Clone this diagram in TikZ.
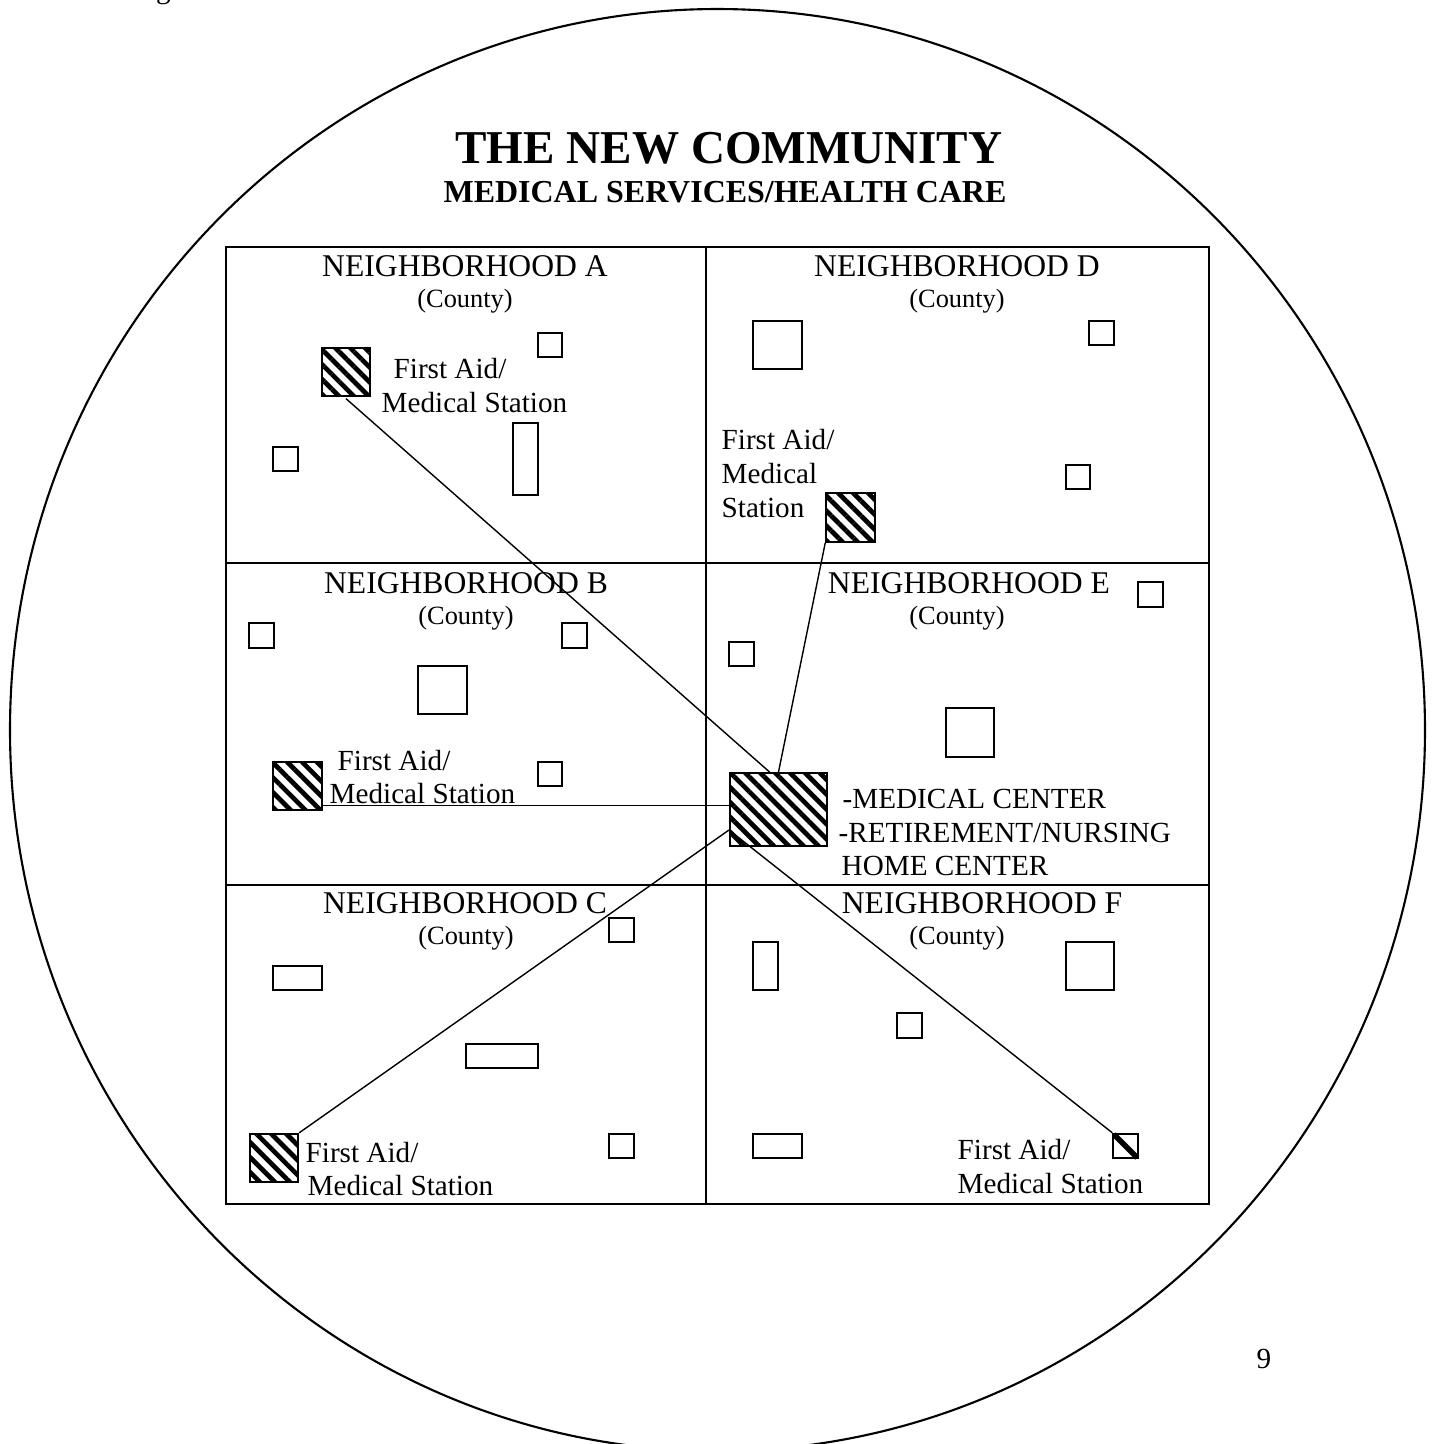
\documentclass[tikz,border=0pt]{standalone}
\usepackage{fontspec}
\setmainfont{Liberation Serif}
\usetikzlibrary{calc}
\usetikzlibrary{patterns.meta}

\tikzset{
	bldg/.style={draw, line width=0.55pt, inner sep=0pt, minimum width=2.45mm, minimum height=2.45mm},
	bigbldg/.style={bldg, minimum width=4.85mm, minimum height=4.85mm},
	station/.style={bigbldg, pattern={Lines[angle=-45,distance=3pt,line width=1.35pt]}},
	grid/.style={line width=0.6pt},
	link/.style={line width=0.4pt},
	nbhd/.style={font=\fontsize{9}{11}\selectfont, anchor=base, inner sep=0pt},
	cnty/.style={font=\fontsize{7.5}{9}\selectfont, anchor=base, inner sep=0pt},
	lbl/.style={font=\fontsize{8.3}{10}\selectfont, anchor=base west, inner sep=0pt}
}

\begin{document}
\begin{tikzpicture}[x=0.1mm,y=-0.1mm]
	\useasboundingbox (0,0) rectangle (1435,1444);

	\node[lbl] (fig) at (131,-2) {Figure 3.};
	\draw[grid] (717.5,730) ellipse [x radius=70.75mm, y radius=72.1mm];

	\node[font=\bfseries\fontsize{13.4}{16}\selectfont, anchor=base, inner sep=0pt] (title) at (729,163) {THE NEW COMMUNITY};
	\node[font=\bfseries\fontsize{9.1}{11}\selectfont, anchor=base, inner sep=0pt] (subtitle) at (725,202) {MEDICAL SERVICES/HEALTH CARE};

	\draw[grid] (226,247) rectangle (1209,1204);
	\draw[grid] (706,247) -- (706,1204);
	\draw[grid] (226,563) -- (1209,563);
	\draw[grid] (226,885) -- (1209,885);

	% neighborhood titles
	\node[nbhd] (na) at (465,276) {NEIGHBORHOOD A};
	\node[cnty] (ca) at (465,307) {(County)};
	\node[nbhd] (nd) at (957,276) {NEIGHBORHOOD D};
	\node[cnty] (cd) at (957,307) {(County)};
	\node[nbhd] (nb) at (466,593) {NEIGHBORHOOD B};
	\node[cnty] (cb) at (466,624) {(County)};
	\node[nbhd] (ne) at (969,593) {NEIGHBORHOOD E};
	\node[cnty] (ce) at (957,624) {(County)};
	\node[nbhd] (nc) at (465,913) {NEIGHBORHOOD C};
	\node[cnty] (cc) at (466,944) {(County)};
	\node[nbhd] (nf) at (982,913) {NEIGHBORHOOD F};
	\node[cnty] (cf) at (957,944) {(County)};

	% buildings
	\node[bldg] (a1) at (550,345) {};
	\node[bldg] (a2) at (285.5,459) {};
	\node[bldg, minimum height=7.2mm] (a3) at (525.5,459) {};
	\node[bigbldg] (d1) at (777.5,345) {};
	\node[bldg] (d2) at (1101.5,333) {};
	\node[bldg] (d3) at (1078,477) {};
	\node[bldg] (b1) at (261.5,635.5) {};
	\node[bldg] (b2) at (574.5,635.5) {};
	\node[bigbldg] (b3) at (442.5,690) {};
	\node[bldg] (b4) at (550,774) {};
	\node[bldg] (e1) at (1150.5,594.5) {};
	\node[bldg] (e2) at (741.5,654) {};
	\node[bigbldg] (e3) at (970,732.5) {};
	\node[bldg, minimum width=4.9mm] (c1) at (297.5,978) {};
	\node[bldg, minimum width=7.2mm] (c2) at (502,1056) {};
	\node[bldg] (c3) at (621.5,930) {};
	\node[bldg] (c4) at (621.5,1146) {};
	\node[bldg, minimum height=4.85mm] (f1) at (765.5,966) {};
	\node[bigbldg] (f2) at (1090,966) {};
	\node[bldg] (f3) at (909.5,1025.5) {};
	\node[bldg, minimum width=4.9mm] (f4) at (777.5,1146) {};

	% first aid stations and the center
	\node[station] (ast) at (346,372) {};
	\node[station] (dst) at (850.5,517.5) {};
	\node[station] (bst) at (297.5,786) {};
	\node[station] (cst) at (274,1158) {};
	\node[bldg] (fst) at (1125.5,1146) {};
	\draw[line width=1.6pt, shorten <=0.6pt, shorten >=0.6pt] (fst.north west) -- (fst.south east);
	\node[station, minimum width=9.7mm, minimum height=7.3mm] (mc) at (778.5,809.5) {};

	\node[lbl] (afa1) at (393,378) {First Aid/};
	\node[lbl] (afa2) at (381,412) {Medical Station};
	\node[lbl] (dfa1) at (721,449) {First Aid/};
	\node[lbl] (dfa2) at (721,483) {Medical};
	\node[lbl] (dfa3) at (721,517) {Station};
	\node[lbl] (bfa1) at (337,770) {First Aid/};
	\node[lbl] (bfa2) at (329,803) {Medical Station};
	\node[lbl] (cfa1) at (305,1162) {First Aid/};
	\node[lbl] (cfa2) at (307,1195) {Medical Station};
	\node[lbl] (ffa1) at (957,1159) {First Aid/};
	\node[lbl] (ffa2) at (957,1193) {Medical Station};
	\node[lbl] (mc1) at (842,808) {-MEDICAL CENTER};
	\node[lbl] (mc2) at (838,842) {-RETIREMENT/NURSING};
	\node[lbl] (mc3) at (841,875) {HOME CENTER};

	% links
	\coordinate (mca) at ($(mc.north west)!0.41!(mc.north east)$);
	\coordinate (mcj) at ($(mc.south west)+(0,-17)$);
	\coordinate (bj) at ($(bst.south east)+(0,-6)$);
	\draw[link] (ast.south) -- (mca);
	\draw[link] (dst.south west) -- (mc.north);
	\draw[link] (bj) -- (bj -| mc.west);
	\draw[link] (cst.north east) -- (mcj);
	\draw[link] (mcj) -- (fst.north west);

	\node[lbl] (pg) at (1256,1368) {9};
\end{tikzpicture}
\end{document}
